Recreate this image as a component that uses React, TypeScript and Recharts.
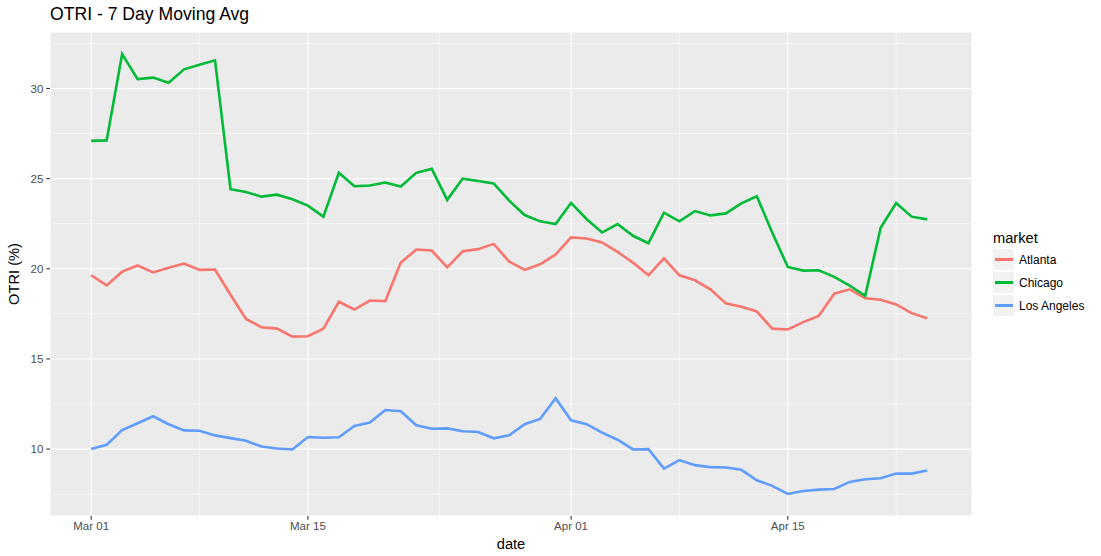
import React from "react";
import {
  LineChart,
  Line,
  XAxis,
  YAxis,
  CartesianGrid,
  ReferenceLine,
} from "recharts";

// daily values, Mar 01 .. Apr 24
const atlanta = [
  19.64, 19.08, 19.84, 20.18, 19.8, 20.06, 20.29, 19.94, 19.96, 18.56,
  17.22, 16.76, 16.68, 16.24, 16.26, 16.68, 18.17, 17.74, 18.24, 18.21,
  20.34, 21.07, 21.01, 20.08, 20.97, 21.09, 21.38, 20.4, 19.94, 20.25,
  20.79, 21.74, 21.68, 21.46, 20.94, 20.34, 19.64, 20.58, 19.64, 19.36,
  18.86, 18.08, 17.89, 17.63, 16.68, 16.63, 17.04, 17.38, 18.62, 18.86,
  18.36, 18.28, 18.02, 17.54, 17.26,
];

const chicago = [
  27.09, 27.12, 31.91, 30.52, 30.6, 30.32, 31.06, 31.32, 31.56, 24.41,
  24.26, 24.0, 24.11, 23.85, 23.5, 22.89, 25.32, 24.58, 24.62, 24.78,
  24.56, 25.32, 25.54, 23.82, 25.0, 24.87, 24.73, 23.78, 22.98, 22.63,
  22.48, 23.65, 22.76, 22.01, 22.48, 21.83, 21.42, 23.11, 22.63, 23.2,
  22.96, 23.07, 23.63, 24.02, 22.0, 20.1, 19.9, 19.92, 19.55, 19.06,
  18.5, 22.27, 23.65, 22.89, 22.74,
];

const losAngeles = [
  10.0, 10.24, 11.06, 11.43, 11.82, 11.38, 11.04, 11.02, 10.76, 10.61,
  10.46, 10.14, 10.03, 9.98, 10.67, 10.63, 10.66, 11.28, 11.47, 12.17,
  12.1, 11.32, 11.13, 11.15, 10.99, 10.95, 10.6, 10.76, 11.38, 11.67,
  12.82, 11.6, 11.38, 10.91, 10.52, 9.98, 10.0, 8.92, 9.39, 9.11,
  9.0, 8.98, 8.85, 8.27, 7.96, 7.51, 7.68, 7.75, 7.79, 8.18,
  8.33, 8.38, 8.64, 8.64, 8.81,
];

const markets = ["Atlanta", "Chicago", "Los Angeles"];
const marketColors = ["#F8766D", "#00BA38", "#619CFF"];

const dayTicks = [0, 14, 31, 45];
const dayTickLabels = ["Mar 01", "Mar 15", "Apr 01", "Apr 15"];
const minorDays = [7, 22.5, 38, 52];
const otriTicks = [10, 15, 20, 25, 30];
const minorOtri = [7.5, 12.5, 17.5, 22.5, 27.5, 32.5];

const seriesValues = [atlanta, chicago, losAngeles];

const data = atlanta.map((_, day) => {
  const row: Record<string, number> = { day };
  markets.forEach((m, i) => {
    row[m] = seriesValues[i][day];
  });
  return row;
});

const FONT = '"Liberation Sans", Arial, Helvetica, sans-serif';

export default function App() {
  return (
    <div
      style={{
        position: "absolute",
        left: 0,
        top: 0,
        width: 1101,
        height: 556,
        background: "#FFFFFF",
        fontFamily: FONT,
      }}
    >
      <div
        style={{
          position: "absolute",
          left: 50,
          top: 6,
          fontSize: 17.6,
          lineHeight: 1,
          color: "#000",
          whiteSpace: "nowrap",
        }}
      >
        OTRI - 7 Day Moving Avg
      </div>

      <LineChart
        width={1101}
        height={556}
        data={data}
        margin={{ top: 32, right: 129, bottom: 0, left: 0 }}
        style={{ fontFamily: FONT }}
      >
        <CartesianGrid
          stroke="#FFFFFF"
          strokeWidth={1.07}
          fill="#EBEBEB"
          fillOpacity={1}
        />
        {minorDays.map((d) => (
          <ReferenceLine
            key={`mx${d}`}
            x={d}
            stroke="#FFFFFF"
            strokeWidth={0.53}
          />
        ))}
        {minorOtri.map((v) => (
          <ReferenceLine
            key={`my${v}`}
            y={v}
            stroke="#FFFFFF"
            strokeWidth={0.53}
          />
        ))}

        <XAxis
          dataKey="day"
          type="number"
          domain={[-2.66, 56.9]}
          ticks={dayTicks}
          allowDataOverflow
          height={40}
          axisLine={false}
          tickLine={{ stroke: "#333333", strokeWidth: 1.07 }}
          tickSize={3.7}
          tickMargin={2}
          tick={{ fontSize: 11.5, fill: "#4D4D4D" }}
          tickFormatter={(v: number) =>
            dayTickLabels[dayTicks.indexOf(v)]
          }
          label={{
            content: (props: any) => {
              const vb = props.viewBox;
              return (
                <text
                  x={vb.x + vb.width / 2}
                  y={vb.y + 33}
                  textAnchor="middle"
                  fontSize={14.67}
                  fill="#000"
                >
                  date
                </text>
              );
            },
          }}
        />

        <YAxis
          type="number"
          domain={[6.29, 33.13]}
          ticks={otriTicks}
          allowDataOverflow
          width={50}
          axisLine={false}
          tickLine={{ stroke: "#333333", strokeWidth: 1.07 }}
          tickSize={3.7}
          tickMargin={3}
          tick={{ fontSize: 11.5, fill: "#4D4D4D" }}
          label={{
            content: (props: any) => {
              const vb = props.viewBox;
              const cx = vb.x + 19;
              const cy = vb.y + vb.height / 2;
              return (
                <text
                  x={cx}
                  y={cy}
                  transform={`rotate(-90 ${cx} ${cy})`}
                  textAnchor="middle"
                  fontSize={14.67}
                  fill="#000"
                >
                  OTRI (%)
                </text>
              );
            },
          }}
        />

        {markets.map((m, i) => (
          <Line
            key={m}
            type="linear"
            dataKey={m}
            stroke={marketColors[i]}
            strokeWidth={2.6}
            dot={false}
            activeDot={false}
            isAnimationActive={false}
          />
        ))}
      </LineChart>

      <div
        style={{
          position: "absolute",
          left: 993,
          top: 230,
          fontSize: 14.67,
          lineHeight: "17px",
          color: "#000",
        }}
      >
        market
      </div>
      {markets.map((m, i) => (
        <div
          key={m}
          style={{
            position: "absolute",
            left: 992,
            top: 248 + i * 23,
            height: 23,
            display: "flex",
            alignItems: "center",
          }}
        >
          <div
            style={{
              width: 23,
              height: 23,
              boxSizing: "border-box",
              border: "1px solid #FFFFFF",
              background: "#F2F2F2",
              display: "flex",
              alignItems: "center",
              justifyContent: "center",
            }}
          >
            <div
              style={{
                width: 18,
                height: 2.6,
                background: marketColors[i],
              }}
            />
          </div>
          <span
            style={{
              marginLeft: 4,
              fontSize: 12,
              color: "#000",
              whiteSpace: "nowrap",
            }}
          >
            {m}
          </span>
        </div>
      ))}
    </div>
  );
}
